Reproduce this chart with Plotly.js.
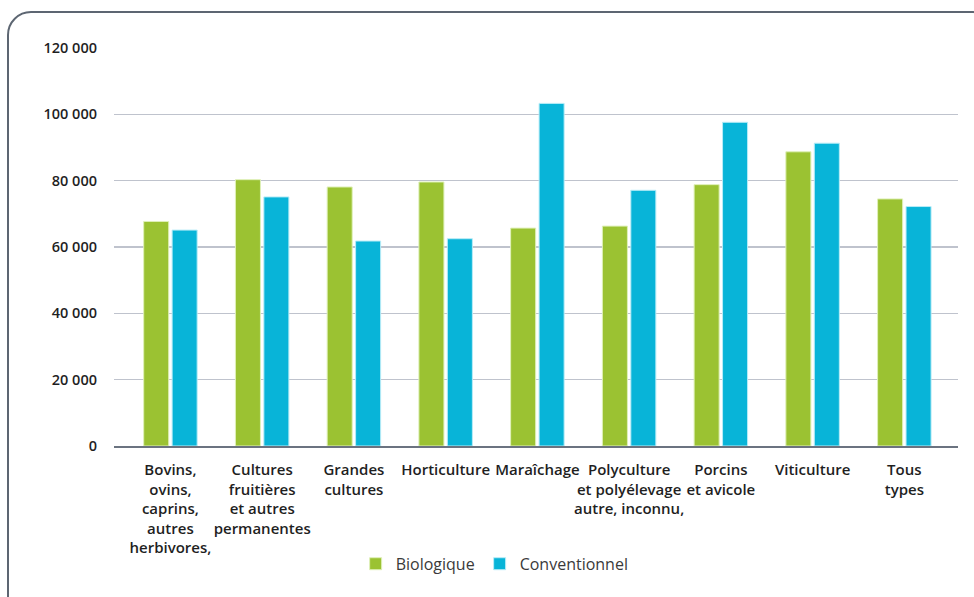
<!DOCTYPE html>
<html>
<head>
<meta charset="utf-8">
<script src="https://cdn.plot.ly/plotly-3.0.1.min.js"></script>
<style>
html,body{margin:0;padding:0;background:#fff;overflow:hidden;}
#frame{position:absolute;left:7px;top:11px;width:990px;height:610px;border:2px solid #5d6672;border-radius:24px;box-sizing:border-box;}
#chart{position:absolute;left:0;top:0;width:974px;height:597px;}
</style>
</head>
<body>
<div id="frame"></div>
<div id="chart"></div>
<script>
const categories = [
  "Bovins,<br>ovins,<br>caprins,<br>autres<br>herbivores,",
  "Cultures<br>fruitières<br>et autres<br>permanentes",
  "Grandes<br>cultures",
  "Horticulture",
  "Maraîchage",
  "Polyculture<br>et polyélevage<br>autre, inconnu,",
  "Porcins<br>et avicole",
  "Viticulture",
  "Tous<br>types"
];
const biologique = [67700, 80300, 78100, 79600, 65700, 66300, 78800, 88700, 74500];
const conventionnel = [65100, 75100, 61800, 62500, 103300, 77100, 97600, 91300, 72200];
const yTicks = [0, 20000, 40000, 60000, 80000, 100000, 120000];
const yTickLabels = ["0", "20 000", "40 000", "60 000", "80 000", "100 000", "120 000"];

const font = "'Open Sans', Lato, sans-serif";
const data = [
  {type:'bar', name:'Biologique', x:categories, y:biologique,
   marker:{color:'#9bc232', line:{color:'#dff0b8', width:1}}},
  {type:'bar', name:'Conventionnel', x:categories, y:conventionnel,
   marker:{color:'#08b4d8', line:{color:'#b8ecf7', width:1}}}
];
const layout = {
  width:974, height:597,
  margin:{l:114, r:16, t:48, b:151},
  paper_bgcolor:'rgba(0,0,0,0)', plot_bgcolor:'rgba(0,0,0,0)',
  barmode:'group', bargap:0.38, bargroupgap:0.12,
  font:{family:font, size:15, color:'#1f1f1f'},
  xaxis:{range:[-0.615, 8.585], showgrid:false, showline:true, linecolor:'#6b7380', linewidth:2,
         ticks:'', tickangle:0, ticklabelstandoff:9,
         tickfont:{family:font, size:15, color:'#1f1f1f', weight:600}},
  yaxis:{range:[0,120000], tickvals:yTicks, ticktext:yTickLabels, showgrid:true,
         gridcolor:'#bfc3cd', gridwidth:1.5, zeroline:false, showline:false, ticks:'',
         ticklabelstandoff:16,
         tickfont:{family:font, size:14.5, color:'#1f1f1f', weight:600}},
  showlegend:true,
  legend:{orientation:'h', x:0.451, xanchor:'center', y:-0.296, yanchor:'middle',
          font:{family:font, size:16, color:'#3a3a3a'}, itemwidth:30},
};
Plotly.newPlot('chart', data, layout, {displayModeBar:false, staticPlot:true});
</script>
</body>
</html>
